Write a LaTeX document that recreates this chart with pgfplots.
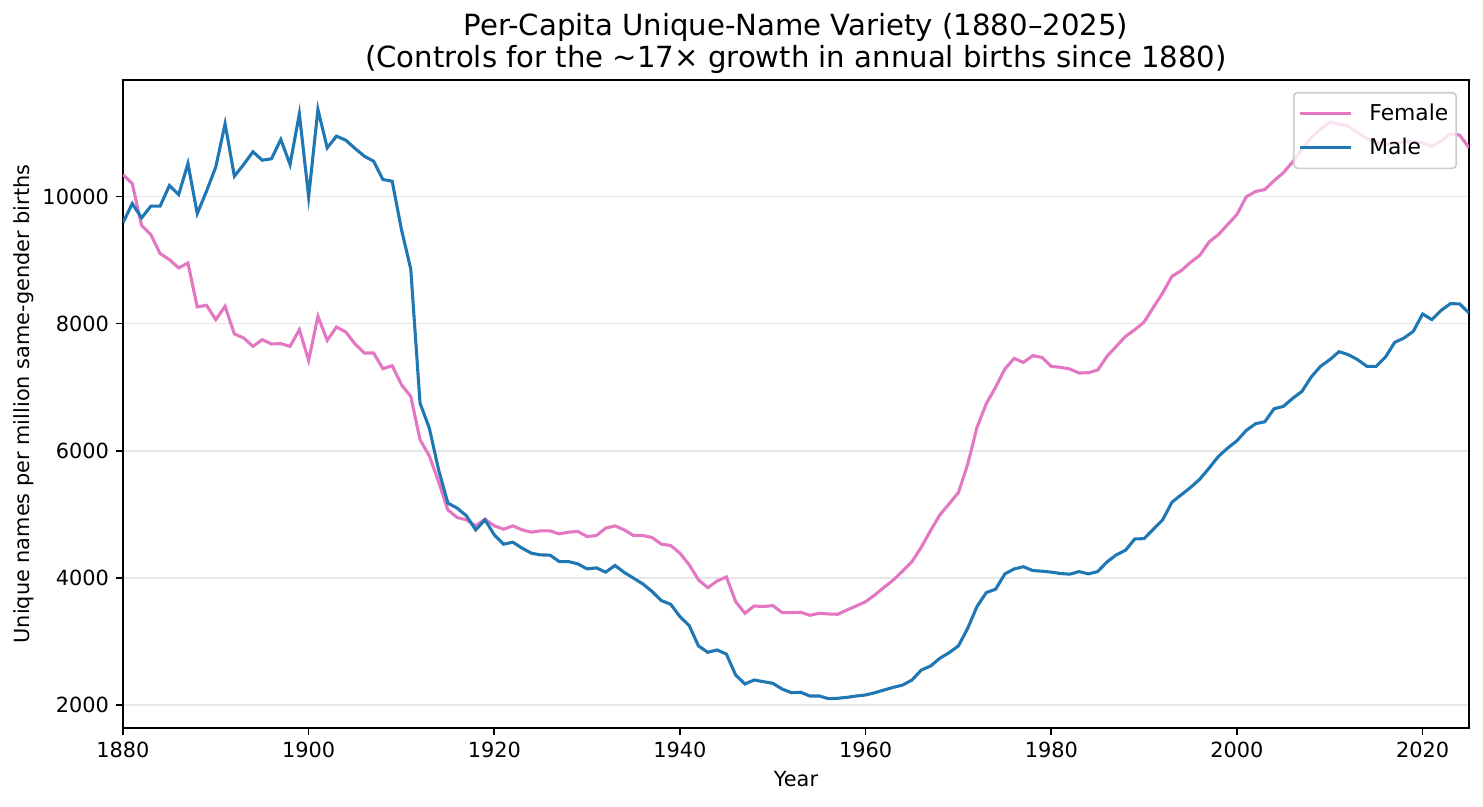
\documentclass[border=0pt]{standalone}
\usepackage{fontspec}
\setmainfont{DejaVu Sans}
\usepackage{pgfplots}
\pgfplotsset{compat=1.18}
\usepackage{pgfplotstable}

\definecolor{femalepink}{HTML}{E377C2}
\definecolor{maleblue}{HTML}{1F77B4}
\definecolor{gridgray}{HTML}{E7E7E7}
\definecolor{legendedge}{HTML}{CCCCCC}

% Unique names per million same-gender births, by year
\pgfplotstableread{
year female male
1880 10346 9586
1881 10205 9890
1882 9548 9664
1883 9402 9848
1884 9102 9848
1885 9008 10173
1886 8877 10031
1887 8955 10520
1888 8263 9732
1889 8289 10084
1890 8063 10467
1891 8273 11145
1892 7838 10320
1893 7774 10504
1894 7643 10704
1895 7748 10572
1896 7680 10594
1897 7685 10898
1898 7643 10504
1899 7905 11302
1900 7422 9995
1901 8115 11370
1902 7737 10767
1903 7947 10950
1904 7869 10887
1905 7680 10756
1906 7538 10635
1907 7538 10556
1908 7291 10268
1909 7338 10241
1910 7039 9480
1911 6855 8861
1912 6173 6750
1913 5920 6357
1914 5511 5700
1915 5070 5176
1916 4949 5097
1917 4913 4976
1918 4818 4755
1919 4924 4913
1920 4818 4676
1921 4766 4530
1922 4818 4561
1923 4755 4467
1924 4719 4388
1925 4740 4361
1926 4740 4358
1927 4692 4256
1928 4719 4256
1929 4730 4220
1930 4650 4141
1931 4666 4157
1932 4782 4090
1933 4818 4195
1934 4755 4085
1935 4666 3995
1936 4666 3905
1937 4635 3785
1938 4530 3642
1939 4509 3585
1940 4388 3390
1941 4204 3248
1942 3968 2928
1943 3846 2829
1944 3950 2865
1945 4015 2802
1946 3626 2471
1947 3443 2330
1948 3558 2393
1949 3548 2366
1950 3564 2341
1951 3454 2251
1952 3454 2193
1953 3459 2200
1954 3411 2141
1955 3443 2141
1956 3432 2099
1957 3427 2105
1958 3495 2120
1959 3558 2141
1960 3626 2157
1961 3731 2193
1962 3852 2236
1963 3968 2278
1964 4110 2314
1965 4256 2393
1966 4483 2550
1967 4745 2613
1968 4992 2735
1969 5165 2823
1970 5343 2930
1971 5790 3207
1972 6370 3550
1973 6740 3768
1974 7000 3821
1975 7286 4062
1976 7453 4140
1977 7390 4175
1978 7496 4115
1979 7469 4105
1980 7328 4090
1981 7312 4068
1982 7286 4058
1983 7223 4099
1984 7228 4062
1985 7270 4099
1986 7485 4250
1987 7643 4361
1988 7800 4435
1989 7905 4612
1990 8026 4617
1991 8257 4766
1992 8483 4913
1993 8745 5191
1994 8834 5307
1995 8965 5422
1996 9075 5553
1997 9286 5727
1998 9401 5910
1999 9559 6042
2000 9717 6157
2001 9995 6319
2002 10079 6425
2003 10110 6456
2004 10250 6661
2005 10375 6698
2006 10545 6824
2007 10745 6934
2008 10925 7160
2009 11060 7328
2010 11170 7433
2011 11140 7559
2012 11105 7512
2013 11010 7433
2014 10910 7328
2015 10850 7328
2016 10820 7475
2017 10835 7706
2018 10860 7774
2019 10870 7879
2020 10845 8152
2021 10793 8063
2022 10872 8209
2023 10987 8315
2024 10966 8310
2025 10767 8168
}\namesdata

\begin{document}
\begin{tikzpicture}
\begin{axis}[
  name=ax,
  scale only axis,
  width=697.2pt, height=335.7pt,
  xmin=1880, xmax=2025,
  ymin=1637, ymax=11835,
  xtick={1880,1900,...,2020},
  ytick={2000,4000,...,10000},
  scaled y ticks=false,
  xtick pos=left, ytick pos=left,
  tick align=outside,
  major tick length=3.8pt,
  every tick/.style={black, line width=0.86pt},
  axis line style={black, line width=0.86pt},
  ymajorgrids,
  grid style={gridgray, line width=0.86pt},
  /pgf/number format/assume math mode=true,
  /pgf/number format/1000 sep={},
  ticklabel style={font=\fontsize{10.8}{13}\selectfont},
  xlabel={Year},
  ylabel={Unique names per million same-gender births},
  every axis x label/.style={at={([yshift=-30.5pt]rel axis cs:0.5,0)}, anchor=base, font=\fontsize{10.8}{13}\selectfont},
  every axis y label/.style={at={([xshift=-42.5pt]rel axis cs:0,0.5)}, rotate=90, anchor=south, font=\fontsize{10.8}{13}\selectfont},
  legend style={
    at={(1,1)}, anchor=north east, xshift=-6.2pt, yshift=-6.2pt,
    draw=legendedge, line width=0.86pt, rounded corners=2pt,
    fill=white, fill opacity=0.8, draw opacity=1, text opacity=1,
    font=\fontsize{11.3}{13.6}\selectfont,
    inner xsep=2.6pt, inner ysep=4.2pt,
    nodes={inner sep=1.5pt},
    row sep=4.6pt, column sep=7.5pt,
  },
  legend cell align=left,
  legend image code/.code={\draw[#1, line width=1.6pt] (0pt,0pt) -- (26pt,0pt);},
]
\addplot[femalepink, line width=1.6pt] table[x=year, y=female] {\namesdata};
\addlegendentry{Female}
\addplot[maleblue, line width=1.6pt] table[x=year, y=male] {\namesdata};
\addlegendentry{Male}
\end{axis}
\node[anchor=base, font=\fontsize{15.1}{18}\selectfont] at ([yshift=6.2pt]ax.north)
  {(Controls for the \textasciitilde17× growth in annual births since 1880)};
\node[anchor=base, font=\fontsize{15.1}{18}\selectfont] at ([yshift=22.8pt]ax.north)
  {Per-Capita Unique-Name Variety (1880–2025)};
\pgfresetboundingbox
\path[use as bounding box] ([xshift=-63.7pt, yshift=-40.4pt]ax.south west)
  rectangle ([xshift=7.25pt, yshift=41.4pt]ax.north east);
\end{tikzpicture}
\end{document}
